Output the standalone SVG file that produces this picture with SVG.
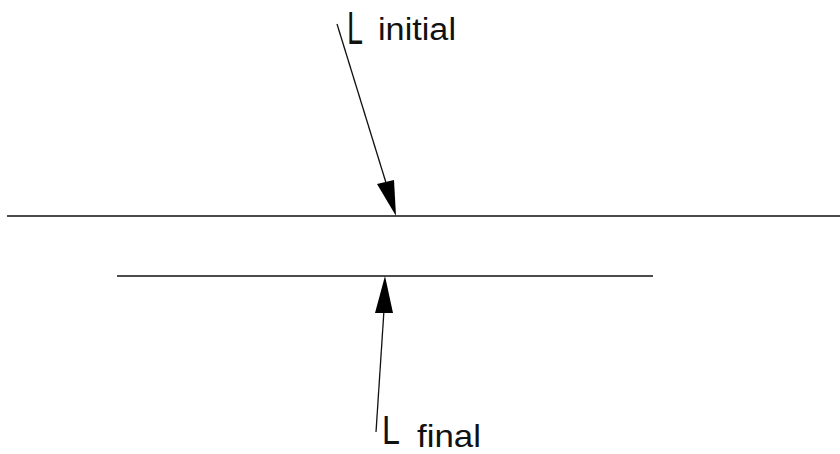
<svg xmlns="http://www.w3.org/2000/svg" width="840" height="454" viewBox="0 0 840 454">
<style>
.ln{stroke:#111;stroke-width:1.3;fill:none}
.hd{fill:#000;stroke:none}
.t{font-family:"Liberation Sans",Arial,sans-serif;fill:#111}
</style>
<rect width="840" height="454" fill="#fff"/>
<g id="surface-initial"><line class="ln" x1="7" y1="216" x2="840" y2="216"/></g>
<g id="surface-final"><line class="ln" x1="117" y1="276" x2="653" y2="276"/></g>
<g id="label-initial">
<text class="t" x="347" y="44" font-size="46" textLength="16" lengthAdjust="spacingAndGlyphs">L</text>
<text class="t" x="378" y="40" font-size="31" textLength="78" lengthAdjust="spacingAndGlyphs">initial</text>
</g>
<g id="label-final">
<text class="t" x="382" y="444" font-size="41" textLength="18" lengthAdjust="spacingAndGlyphs">L</text>
<text class="t" x="417" y="447" font-size="32" textLength="64" lengthAdjust="spacingAndGlyphs">final</text>
</g>
<g id="connectors">
<line class="ln" x1="337" y1="24" x2="387" y2="186"/>
<polygon class="hd" points="377,184 394,180 396,216"/>
<line class="ln" x1="384" y1="310" x2="376" y2="432"/>
<polygon class="hd" points="385,276 375,313 393,313"/>
</g>
</svg>
